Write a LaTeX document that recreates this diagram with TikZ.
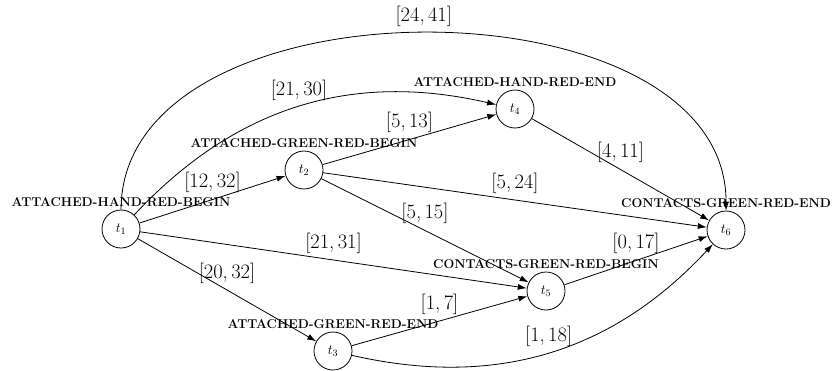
\RequirePackage{fix-cm}
\documentclass[tikz,border=0pt]{standalone}
\usepackage{fontspec}
\usetikzlibrary{arrows.meta}
\newcommand{\iv}[2]{[#1,\,#2]}
\begin{document}
\begin{tikzpicture}[x=1pt,y=-1pt,
  state/.style={circle,draw,line width=0.8pt,minimum size=38pt,inner sep=0pt,font=\fontsize{14}{16}\selectfont},
  evt/.style={font=\fontsize{12.8}{14}\selectfont\bfseries,inner sep=3pt},
  edge/.style={-{Latex[length=9pt,width=6pt]},line width=0.8pt},
  ivl/.style={midway,above=4pt,inner sep=2pt,font=\fontsize{20.5}{24}\selectfont}]
\useasboundingbox (0,0) rectangle (833,370);
\node[state,label={[evt]above:ATTACHED-HAND-RED-BEGIN}] (t1) at (121,229) {$t_1$};
\node[state,label={[evt]above:ATTACHED-GREEN-RED-BEGIN}] (t2) at (304,170) {$t_2$};
\node[state,label={[evt]above:ATTACHED-GREEN-RED-END}] (t3) at (333,351) {$t_3$};
\node[state,label={[evt]above:ATTACHED-HAND-RED-END}] (t4) at (515,109) {$t_4$};
\node[state,label={[evt]above:CONTACTS-GREEN-RED-BEGIN}] (t5) at (546,291) {$t_5$};
\node[state,label={[evt]above:CONTACTS-GREEN-RED-END}] (t6) at (726,230) {$t_6$};
\draw[edge] (t1) to[bend left=90] node[ivl]{\iv{24}{41}} (t6);
\draw[edge] (t1) to[bend left=30] node[ivl]{\iv{21}{30}} (t4);
\draw[edge] (t1) -- node[ivl]{\iv{12}{32}} (t2);
\draw[edge] (t1) -- node[ivl]{\iv{21}{31}} (t5);
\draw[edge] (t1) -- node[ivl]{\iv{20}{32}} (t3);
\draw[edge] (t2) -- node[ivl]{\iv{5}{13}} (t4);
\draw[edge] (t2) -- node[ivl]{\iv{5}{24}} (t6);
\draw[edge] (t2) -- node[ivl]{\iv{5}{15}} (t5);
\draw[edge] (t4) -- node[ivl]{\iv{4}{11}} (t6);
\draw[edge] (t5) -- node[ivl]{\iv{0}{17}} (t6);
\draw[edge] (t3) -- node[ivl]{\iv{1}{7}} (t5);
\draw[edge] (t3) to[bend right=30] node[ivl]{\iv{1}{18}} (t6);
\end{tikzpicture}
\end{document}
